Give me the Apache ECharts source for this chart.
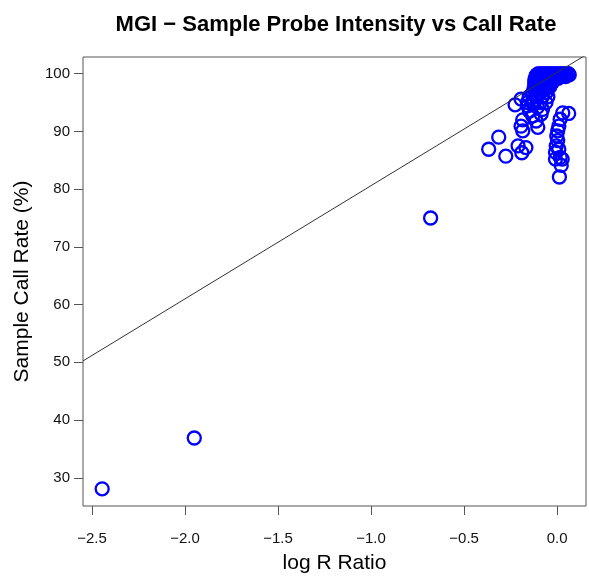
<!DOCTYPE html>
<html>
<head>
<meta charset="utf-8">
<script src="https://cdn.jsdelivr.net/npm/echarts@6/dist/echarts.min.js"></script>
<style>
  html, body { margin: 0; padding: 0; background: #fff; }
  #chart { width: 589px; height: 579px; }
</style>
</head>
<body>
<div id="chart"></div>
<script>
// sample log R ratio (x) and call rate in % (y)
const logR = [
  // dense cluster near the top right
  -0.10, -0.08, -0.06, -0.04, -0.02, 0.00, 0.02, 0.04, 0.06,
  -0.11, -0.09, -0.07, -0.05, -0.03, -0.01, 0.01, 0.03, 0.05, 0.065,
  -0.115, -0.10, -0.08, -0.06, -0.04, -0.02, 0.00, 0.02, 0.045,
  -0.115, -0.095, -0.075, -0.055, -0.035, -0.015, 0.005,
  -0.12, -0.10, -0.08, -0.06, -0.04, -0.02,
  -0.12, -0.105, -0.085, -0.065, -0.045, -0.025,
  -0.12, -0.10, -0.08, -0.06, -0.04,
  -0.12, -0.10, -0.08, -0.06, -0.04,
  -0.125, -0.105, -0.085, -0.065,
  -0.13, -0.095, -0.06,
  -0.15, -0.115, -0.08, -0.05,
  -0.16, -0.125, -0.09, -0.06,
  // scattered samples left of the cluster
  -2.445, -1.95, -0.68, -0.368, -0.314, -0.276, -0.226, -0.21, -0.19, -0.168,
  -0.194, -0.185, -0.194, -0.185, -0.113, -0.104, -0.131, -0.149, -0.158,
  -0.086, -0.079, -0.133, -0.106,
  // column of samples near zero
  0.03, 0.062, 0.016, 0.009, 0.003, -0.002, 0.003, -0.005, 0.009, -0.009,
  0.016, -0.009, 0.027, 0.022, 0.012
];
const callRate = [
  100.0, 100.0, 100.0, 100.0, 100.0, 100.0, 100.0, 100.0, 100.0,
  99.8, 99.8, 99.8, 99.8, 99.8, 99.8, 99.8, 99.8, 99.8, 99.8,
  99.5, 99.5, 99.5, 99.5, 99.5, 99.5, 99.5, 99.5, 99.5,
  99.2, 99.2, 99.2, 99.2, 99.2, 99.2, 99.2,
  98.9, 98.9, 98.9, 98.9, 98.9, 98.9,
  98.5, 98.5, 98.5, 98.5, 98.5, 98.5,
  98.1, 98.1, 98.1, 98.1, 98.1,
  97.7, 97.7, 97.7, 97.7, 97.7,
  97.3, 97.3, 97.3, 97.3,
  96.7, 96.7, 96.7,
  96.0, 96.0, 96.0, 96.0,
  95.0, 95.0, 95.0, 95.0,
  28.1, 36.9, 75.0, 86.9, 89.0, 85.7, 94.6, 87.5, 86.3, 87.2,
  95.6, 92.0, 90.9, 90.1, 91.8, 90.7, 92.7, 93.5, 94.4,
  93.0, 93.8, 95.0, 94.2,
  93.2, 93.1, 92.1, 90.9, 90.1, 89.2, 88.4, 87.5, 86.9, 86.4,
  85.5, 85.2, 85.2, 84.1, 82.1
];

// fitted line: callRate = fitIntercept + fitSlope * logR
const fitIntercept = 100.21;
const fitSlope = 19.61;

const xTicks = [-2.5, -2.0, -1.5, -1.0, -0.5, 0.0];
const yTicks = [30, 40, 50, 60, 70, 80, 90, 100];
const xMin = -2.548, xMax = 0.155;
const yMin = 25.12, yMax = 102.88;

const points = logR.map((x, i) => [x, callRate[i]]);
const fitLine = [
  [xMin, fitIntercept + fitSlope * xMin],
  [xMax, fitIntercept + fitSlope * xMax]
];

const font = "'Liberation Sans', Arial, Helvetica, sans-serif";
const minus = v => String(v).replace('-', '\u2212');

const chart = echarts.init(document.getElementById('chart'), null, { renderer: 'canvas' });

chart.setOption({
  backgroundColor: '#ffffff',
  animation: false,
  title: {
    text: 'MGI \u2212 Sample Probe Intensity vs Call Rate',
    left: 331,
    top: 9,
    textAlign: 'center',
    textStyle: { fontFamily: font, fontSize: 22, fontWeight: 'bold', color: '#000' }
  },
  grid: {
    left: 83, right: 3, top: 57, bottom: 70,
    show: true,
    borderColor: '#555',
    borderWidth: 1,
    backgroundColor: 'transparent'
  },
  xAxis: {
    type: 'value',
    min: xMin,
    max: xMax,
    name: 'log R Ratio',
    nameLocation: 'middle',
    nameGap: 47,
    nameTextStyle: { fontFamily: font, fontSize: 21, color: '#000' },
    axisLine: { show: false, onZero: false },
    splitLine: { show: false },
    axisTick: {
      show: true, length: 9, inside: false,
      customValues: xTicks,
      lineStyle: { color: '#555' }
    },
    axisLabel: {
      customValues: xTicks,
      margin: 25,
      fontFamily: font, fontSize: 15, color: '#111',
      formatter: v => minus(v.toFixed(1))
    }
  },
  yAxis: {
    type: 'value',
    min: yMin,
    max: yMax,
    name: 'Sample Call Rate (%)',
    nameLocation: 'middle',
    nameGap: 50,
    nameTextStyle: { fontFamily: font, fontSize: 21, color: '#000' },
    axisLine: { show: false, onZero: false },
    splitLine: { show: false },
    axisTick: {
      show: true, length: 9, inside: false,
      customValues: yTicks,
      lineStyle: { color: '#555' }
    },
    axisLabel: {
      customValues: yTicks,
      margin: 13,
      fontFamily: font, fontSize: 15, color: '#111',
      formatter: v => String(v)
    }
  },
  series: [
    {
      type: 'scatter',
      data: points,
      symbol: 'circle',
      symbolSize: 13,
      itemStyle: { color: 'rgba(0,0,0,0)', borderColor: '#0000ff', borderWidth: 2.3, opacity: 1 },
      z: 2
    },
    {
      type: 'line',
      data: fitLine,
      clip: true,
      symbol: 'none',
      lineStyle: { color: '#333', width: 1 },
      z: 3
    }
  ]
});
</script>
</body>
</html>
